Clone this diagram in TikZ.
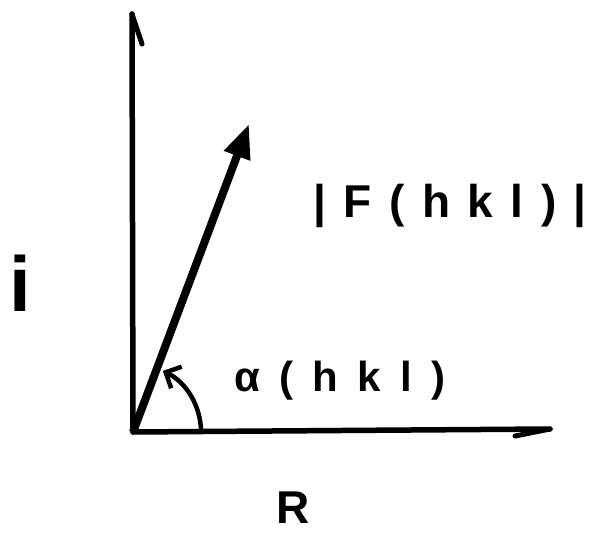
\documentclass[tikz,border=0pt]{standalone}
\usepackage{fontspec}
\usetikzlibrary{arrows.meta}
\newfontfamily\modfont[LetterSpace=38]{Liberation Sans}
\newfontfamily\anglefont[LetterSpace=46]{Liberation Sans}
\newfontfamily\plainfont{Liberation Sans}

\begin{document}
\begin{tikzpicture}[
  x=1pt,
  y=-1pt,
  every node/.style={inner sep=0pt},
  axis/.style={line width=5.5pt, line cap=round},
  barb/.style={line width=5pt, line cap=round},
  vec/.style={line width=8pt, -{Triangle[length=34pt,width=26pt]}},
  anglearc/.style={line width=4.5pt, -{Straight Barb[length=12pt,width=24pt]}},
  modlab/.style={font=\modfont\bfseries\fontsize{46}{50}\selectfont},
  anglelab/.style={font=\anglefont\bfseries\fontsize{42}{46}\selectfont},
  axlab/.style={font=\plainfont\bfseries\fontsize{46}{50}\selectfont}
]
\useasboundingbox (0,0) rectangle (594,534);
\coordinate (O) at (133,432);
\coordinate (itop) at (132,14);
\coordinate (rend) at (550,429);
\coordinate (ftip) at (249,124);
\draw[axis] (O) -- (itop);
\draw[axis] (O) -- (rend);
\draw[barb] (itop) -- ++(10,30);
\draw[barb] (rend) -- ++(-35,7);
\draw[vec] (O) -- (ftip);
\draw[anglearc] (O) ++(68,0) arc[start angle=0, end angle=-64, radius=68];
\node[modlab] (fmag) at (450,206) {|F(hkl)|};
\node[anglelab] (alpha) at (340,381) {α(hkl)};
\node[axlab, font=\plainfont\bfseries\fontsize{78}{82}\selectfont] (ilab) at (20,283) {i};
\node[axlab] (rlab) at (293,508) {R};
\end{tikzpicture}
\end{document}
